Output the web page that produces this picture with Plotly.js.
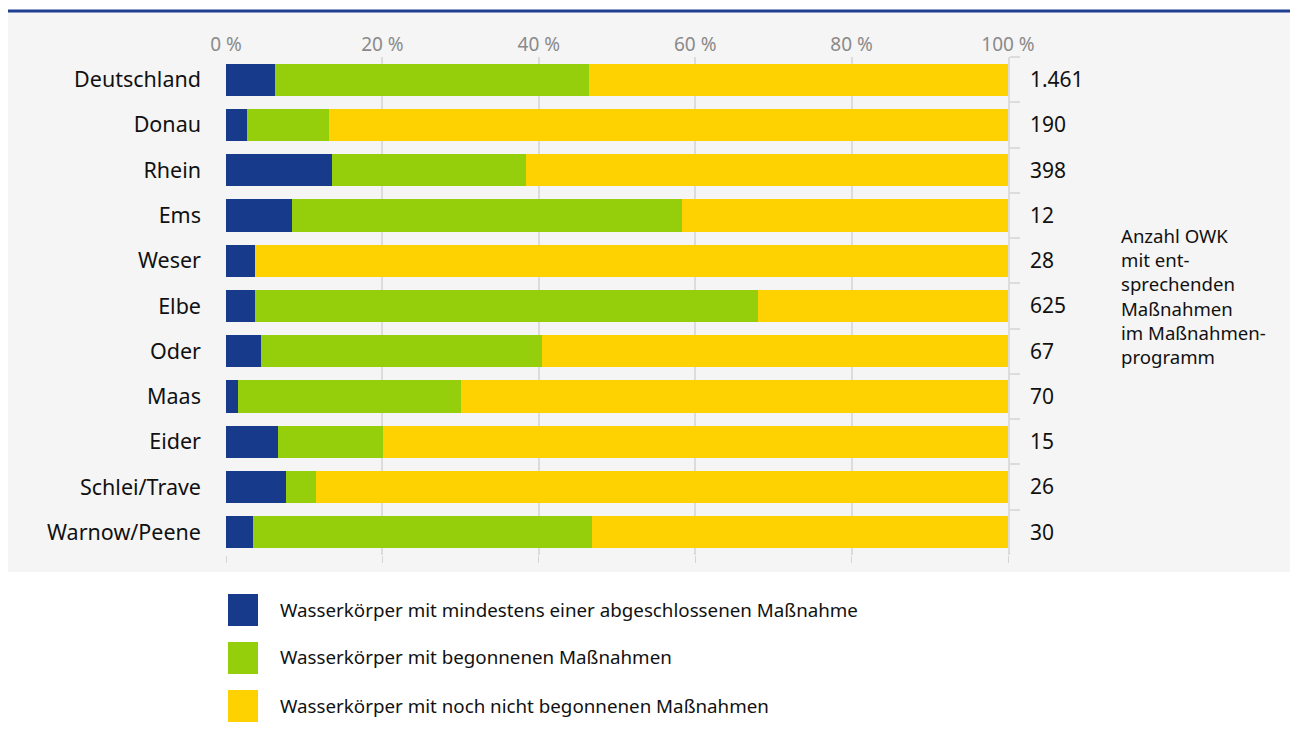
<!DOCTYPE html>
<html>
<head>
<meta charset="utf-8">
<script src="https://cdn.plot.ly/plotly-3.0.1.min.js"></script>
<style>html,body{margin:0;padding:0;background:#fff;}#chart{width:1290px;height:733px;}</style>
</head>
<body>
<div id="chart"></div>
<script>
const categories = ["Deutschland","Donau","Rhein","Ems","Weser","Elbe","Oder","Maas","Eider","Schlei/Trave","Warnow/Peene"];
const counts = ["1.461","190","398","12","28","625","67","70","15","26","30"];
const abgeschlossen = [6.3, 2.7, 13.6, 8.4, 3.7, 3.7, 4.5, 1.5, 6.6, 7.7, 3.5];
const begonnen = [40.1, 10.5, 24.8, 49.9, 0, 64.3, 35.9, 28.6, 13.5, 3.8, 43.3];
const nichtBegonnen = [53.6, 86.8, 61.6, 41.7, 96.3, 32.0, 59.6, 69.9, 79.9, 88.5, 53.2];
const seriesNames = [
  "Wasserkörper mit mindestens einer abgeschlossenen Maßnahme",
  "Wasserkörper mit begonnenen Maßnahmen",
  "Wasserkörper mit noch nicht begonnenen Maßnahmen"
];
const colors = ["#173A8A", "#95CE0A", "#FDD200"];
const tickVals = [0, 20, 40, 60, 80, 100];
const tickText = ["0 %", "20 %", "40 %", "60 %", "80 %", "100 %"];
const sideNote = "Anzahl OWK<br>mit ent-<br>sprechenden<br>Maßnahmen<br>im Maßnahmen-<br>programm";

const W = 1290, H = 733;
const M = {l: 226, r: 282, t: 57, b: 178};
const pw = W - M.l - M.r, ph = H - M.t - M.b;
const px = x => (x - M.l) / pw;
const py = y => (H - M.b - y) / ph;

const FONT = "'Noto Sans', 'DejaVu Sans', sans-serif";
const values = [abgeschlossen, begonnen, nichtBegonnen];

const traces = values.map((v, i) => ({
  type: "bar", orientation: "h", x: v, y: categories, name: seriesNames[i],
  marker: {color: colors[i]}, showlegend: false, hoverinfo: "x+y+name"
}));
traces.push({
  type: "scatter", mode: "markers", x: counts.map(() => 0), y: counts,
  yaxis: "y2", marker: {opacity: 0}, showlegend: false, hoverinfo: "skip"
});
traces.push({
  type: "scatter", mode: "markers", x: [0], y: [categories[0]],
  xaxis: "x2", marker: {opacity: 0}, showlegend: false, hoverinfo: "skip"
});

const shapes = [
  {type: "rect", xref: "paper", yref: "paper", x0: px(8), x1: px(1290), y0: py(572), y1: py(12),
   fillcolor: "#F5F5F5", line: {width: 0}, layer: "below"},
  {type: "line", xref: "paper", yref: "paper", x0: px(8), x1: px(1290), y0: py(11), y1: py(11),
   line: {color: "#1F3F91", width: 3}, layer: "above"}
];
const annotations = [
  {xref: "paper", yref: "paper", x: px(1119), y: py(296), xanchor: "left", yanchor: "middle",
   text: sideNote, align: "left", showarrow: false, font: {family: FONT, size: 18.6, color: "#111"}}
];
seriesNames.forEach((n, i) => {
  const top = 594 + i * 48;
  shapes.push({type: "rect", xref: "paper", yref: "paper", x0: px(228), x1: px(258),
    y0: py(top + 32), y1: py(top), fillcolor: colors[i], line: {width: 0}});
  annotations.push({xref: "paper", yref: "paper", x: px(278), y: py(top + 15), xanchor: "left",
    yanchor: "middle", text: n, showarrow: false, font: {family: FONT, size: 18.75, color: "#111"}});
});

const layout = {
  width: W, height: H,
  margin: M,
  paper_bgcolor: "#ffffff", plot_bgcolor: "rgba(0,0,0,0)",
  barmode: "stack", bargap: 0.29,
  font: {family: FONT, color: "#111"},
  showlegend: false,
  xaxis: {
    side: "top", range: [0, 100], tickvals: tickVals, ticktext: tickText,
    tickfont: {family: FONT, size: 19, color: "#8a8a8a"},
    showgrid: true, gridcolor: "#DCDCDC", gridwidth: 1.5, zeroline: false,
    ticks: "", showline: false, fixedrange: true, ticklabelstandoff: 1
  },
  xaxis2: {
    overlaying: "x", matches: "x", anchor: "y", side: "bottom", range: [0, 100],
    tickvals: tickVals, showticklabels: false, ticks: "outside", ticklen: 7,
    tickcolor: "#D5D5D5", tickwidth: 1, showgrid: false, zeroline: false, showline: false
  },
  yaxis: {
    type: "category", categoryorder: "array", categoryarray: categories,
    range: [10.5, -0.5], autorange: false,
    tickfont: {family: FONT, size: 21.5, color: "#111"},
    ticks: "", ticklabelstandoff: 24, showgrid: false, zeroline: false, showline: false
  },
  yaxis2: {
    type: "category", categoryorder: "array", categoryarray: counts,
    overlaying: "y", anchor: "x", side: "right",
    range: [10.5, -0.5], autorange: false,
    tickfont: {family: FONT, size: 21, color: "#111"},
    tickson: "boundaries", ticks: "outside", ticklen: 10, tickcolor: "#DCDCDC", tickwidth: 1.5,
    showline: true, linecolor: "#DCDCDC", linewidth: 1.5, showgrid: false, zeroline: false,
    ticklabelstandoff: 16
  },
  shapes: shapes,
  annotations: annotations
};

Plotly.newPlot("chart", traces, layout, {displayModeBar: false});
</script>
</body>
</html>
